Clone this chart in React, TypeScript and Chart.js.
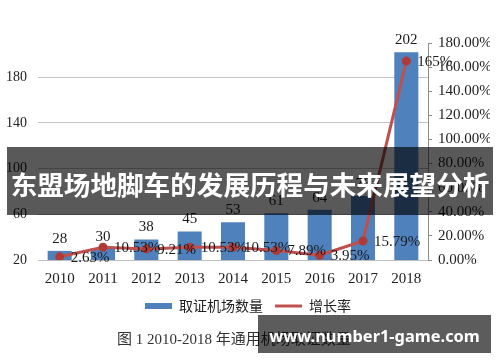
import React, { useEffect, useRef } from "react";
import { Chart, registerables } from "chart.js";

Chart.register(...registerables);

const years = ["2010", "2011", "2012", "2013", "2014", "2015", "2016", "2017", "2018"];
const airportCounts = [28, 30, 38, 45, 53, 61, 64, 76, 202];
const growthRates = [2.63, 10.53, 9.21, 10.53, 10.53, 7.89, 3.95, 15.79, 165];
const growthLabels = ["2.63%", "10.53%", "9.21%", "10.53%", "10.53%", "7.89%", "3.95%", "15.79%", "165%"];
const leftTicks = [20, 60, 100, 140, 180];
const rightTicks = [0, 20, 40, 60, 80, 100, 120, 140, 160, 180];
const seriesNames = ["取证机场数量", "增长率"];
const titleText = "东盟场地脚车的发展历程与未来展望分析";
const captionText = "图 1 2010-2018 年通用机场取证数量";
const watermarkText = "www.number1-game.com";

const BAR_COLOR = "#4f81bd";
const LINE_COLOR = "#c0504d";
const SERIF = "'Liberation Serif', 'Times New Roman', 'Noto Sans CJK SC', serif";

const valueLabels = {
  id: "valueLabels",
  afterDatasetsDraw(chart: any) {
    const ctx = chart.ctx;
    ctx.save();
    ctx.font = `15px ${SERIF}`;
    ctx.fillStyle = "#1a1a1a";
    const barMeta = chart.getDatasetMeta(0);
    ctx.textAlign = "center";
    ctx.textBaseline = "alphabetic";
    barMeta.data.forEach((el: any, i: number) => {
      ctx.fillText(String(airportCounts[i]), el.x, el.y - 8);
    });
    const lineMeta = chart.getDatasetMeta(1);
    ctx.textAlign = "left";
    ctx.textBaseline = "middle";
    lineMeta.data.forEach((el: any, i: number) => {
      ctx.fillText(growthLabels[i], el.x + 11, el.y + 1);
    });
    ctx.restore();
  },
};

export default function App() {
  const canvasRef = useRef<HTMLCanvasElement | null>(null);

  useEffect(() => {
    const canvas = canvasRef.current;
    if (!canvas) return;
    const chart = new Chart(canvas, {
      type: "bar",
      data: {
        labels: years,
        datasets: [
          {
            type: "bar",
            label: seriesNames[0],
            data: airportCounts,
            backgroundColor: BAR_COLOR,
            borderWidth: 0,
            barPercentage: 0.555,
            categoryPercentage: 1,
            yAxisID: "y",
            order: 1,
          },
          {
            type: "line",
            label: seriesNames[1],
            data: growthRates,
            borderColor: LINE_COLOR,
            backgroundColor: LINE_COLOR,
            borderWidth: 3,
            pointRadius: 3,
            pointBackgroundColor: "#b03a37",
            pointBorderColor: "#b03a37",
            tension: 0,
            yAxisID: "y1",
            order: 0,
          },
        ],
      },
      options: {
        animation: false,
        responsive: false,
        maintainAspectRatio: false,
        layout: { autoPadding: false, padding: { left: 6, right: 10, top: 43, bottom: 39 } },
        plugins: {
          tooltip: { enabled: false },
          legend: {
            display: true,
            position: "bottom",
            labels: {
              usePointStyle: true,
              pointStyleWidth: 27,
              boxHeight: 6,
              padding: 12,
              color: "#222",
              font: { size: 14, family: "'Noto Sans CJK SC', sans-serif" },
              sort: (a: any, b: any) => a.datasetIndex - b.datasetIndex,
              generateLabels: (chart: any) => {
                const items = Chart.defaults.plugins.legend.labels.generateLabels(chart);
                return items.map((it: any) => {
                  if (it.datasetIndex === 1) {
                    return { ...it, pointStyle: "line", strokeStyle: LINE_COLOR, fillStyle: LINE_COLOR, lineWidth: 3 };
                  }
                  return { ...it, pointStyle: "rect", lineWidth: 0, fillStyle: BAR_COLOR, strokeStyle: BAR_COLOR };
                });
              },
            },
          },
        },
        scales: {
          x: {
            grid: { display: false, drawTicks: false },
            border: { display: true, color: "#bfbfbf", width: 1 },
            ticks: { color: "#222", padding: 10, font: { size: 15, family: SERIF } },
            afterFit: (scale: any) => {
              scale.height = 27;
            },
          },
          y: {
            position: "left",
            min: 20,
            max: 210,
            afterBuildTicks: (scale: any) => {
              scale.ticks = leftTicks.map((v) => ({ value: v }));
            },
            afterFit: (scale: any) => {
              scale.width = 32;
            },
            grid: { color: "#c4c4c4", drawTicks: false, lineWidth: 1 },
            border: { display: false },
            ticks: { color: "#222", padding: 11, font: { size: 14, family: SERIF } },
          },
          y1: {
            position: "right",
            min: 0,
            max: 180,
            afterBuildTicks: (scale: any) => {
              scale.ticks = rightTicks.map((v) => ({ value: v }));
            },
            afterFit: (scale: any) => {
              scale.width = 62;
            },
            grid: { drawOnChartArea: false, drawTicks: true, tickLength: 4, color: "#8c8c8c" },
            border: { display: true, color: "#8c8c8c", width: 1 },
            ticks: {
              color: "#222",
              padding: 6,
              font: { size: 15, family: SERIF },
              callback: (v: any) => `${Number(v).toFixed(2)}%`,
            },
          },
        },
      },
      plugins: [valueLabels],
    } as any);
    return () => chart.destroy();
  }, []);

  return (
    <div style={{ position: "fixed", left: 0, top: 0, width: 500, height: 362, background: "#fff", overflow: "hidden" }}>
      <canvas ref={canvasRef} width={500} height={362} style={{ position: "absolute", left: 0, top: 0, width: 500, height: 362 }} />
      <div
        style={{
          position: "absolute",
          left: 117,
          top: 328,
          fontFamily: SERIF,
          fontSize: 15,
          lineHeight: "22px",
          color: "#333",
          whiteSpace: "nowrap",
        }}
      >
        {captionText}
      </div>
      <div
        style={{
          position: "absolute",
          left: 7,
          top: 147,
          width: 486,
          height: 68,
          background: "rgba(0,0,0,0.65)",
        }}
      />
      <div
        style={{
          position: "absolute",
          left: 0,
          top: 150,
          width: 500,
          height: 68,
          lineHeight: "68px",
          textAlign: "center",
          color: "#fff",
          fontWeight: 700,
          fontSize: 26.6,
          fontFamily: "'Noto Sans CJK SC', sans-serif",
          whiteSpace: "nowrap",
        }}
      >
        {titleText}
      </div>
      <div
        style={{
          position: "absolute",
          left: 258,
          top: 315,
          width: 233,
          height: 38,
          background: "rgba(0,0,0,0.64)",
        }}
      />
      <div
        style={{
          position: "absolute",
          left: 258,
          top: 317,
          width: 233,
          height: 38,
          lineHeight: "38px",
          color: "#fff",
          fontWeight: 700,
          fontSize: 16.4,
          textAlign: "center",
          fontFamily: "'Noto Sans', 'DejaVu Sans', sans-serif",
          whiteSpace: "nowrap",
        }}
      >
        {watermarkText}
      </div>
    </div>
  );
}
